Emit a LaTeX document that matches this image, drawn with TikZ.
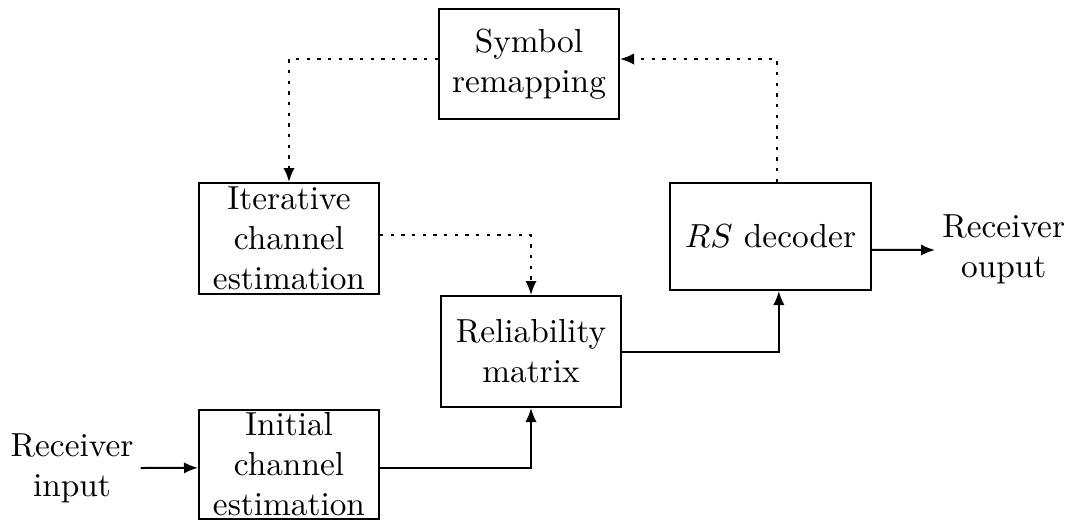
\documentclass[tikz,border=0pt]{standalone}
\usetikzlibrary{arrows.meta}
\begin{document}
\begin{tikzpicture}[x=0.3pt,y=-0.3pt,
  blk/.style={draw,semithick,align=center,inner sep=0pt},
  lbl/.style={align=center,inner sep=2pt},
  arr/.style={semithick,-{Latex[length=4.2pt,width=3.4pt]}},
  dots/.style={arr,dash pattern=on 1pt off 2.2pt}]
\useasboundingbox (0,0) rectangle (1074,521);
\node[blk,minimum width=54pt,minimum height=33pt] (sym) at (529,64) {Symbol\\remapping};
\node[blk,minimum width=54pt,minimum height=33.3pt] (iter) at (289,238.5) {Iterative\\channel\\estimation};
\node[blk,minimum width=60.3pt,minimum height=32.1pt] (rs) at (770.5,236.5) {$RS$ decoder};
\node[blk,minimum width=54pt,minimum height=33.3pt] (rel) at (531,351.5) {Reliability\\matrix};
\node[blk,minimum width=54pt,minimum height=32.7pt] (init) at (289,464.5) {Initial\\channel\\estimation};
\node[lbl] (in) at (72,468) {Receiver\\input};
\node[lbl,anchor=west] (out) at (935,249) {Receiver\\ouput};
\draw[arr] (in.east |- 0,468) -- ([yshift=-1pt]init.west);
\draw[arr] ([yshift=-1pt]init.east) -| (rel.south);
\draw[arr] (rel.east) -| ([xshift=2.5pt]rs.south);
\draw[arr] ([yshift=-4pt]rs.east) -- (out.west |- 0,250);
\draw[dots] ([xshift=2pt]rs.north) |- ([yshift=1.5pt]sym.east);
\draw[dots] ([yshift=1.5pt]sym.west) -| (iter.north);
\draw[dots] ([yshift=1pt]iter.east) -| (rel.north);
\end{tikzpicture}
\end{document}
